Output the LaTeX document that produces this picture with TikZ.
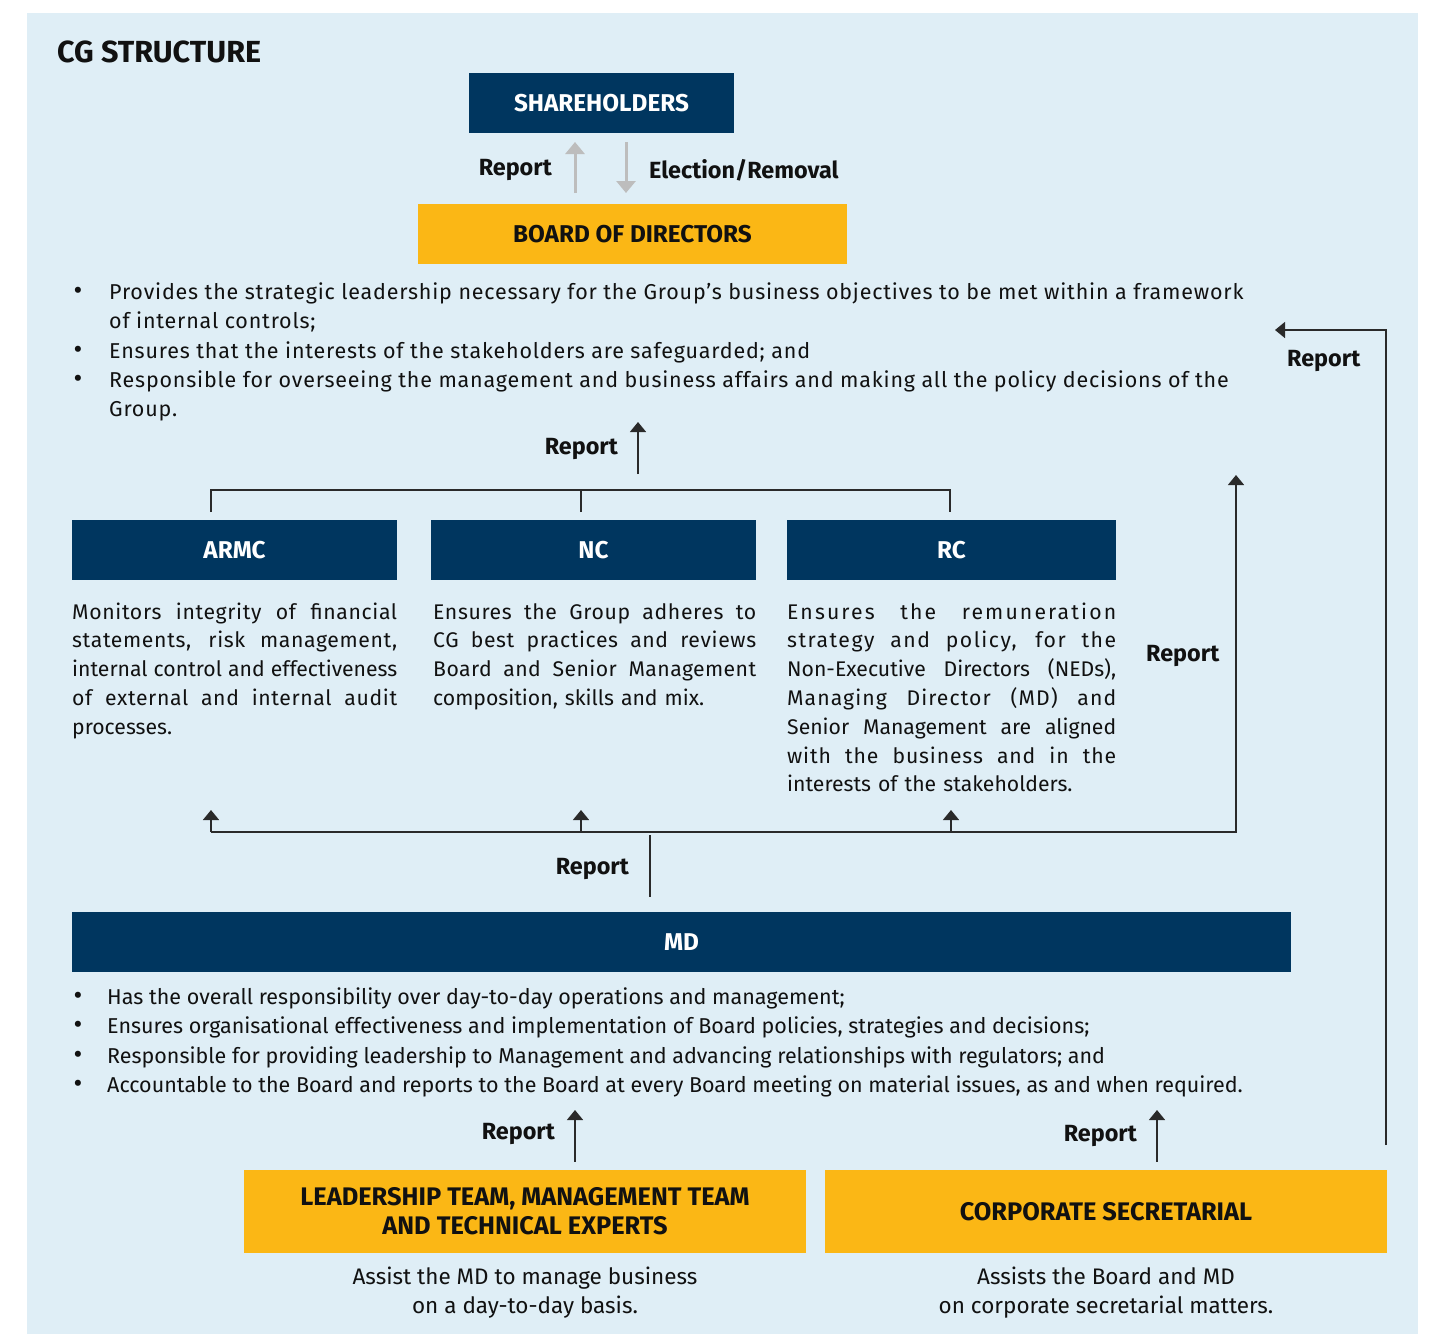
\documentclass[tikz,border=0pt]{standalone}
\usepackage{fontspec}
\setmainfont{Fira Sans}
\usetikzlibrary{arrows.meta}
\definecolor{navy}{HTML}{00365F}
\definecolor{gold}{HTML}{FBB715}
\definecolor{bgblue}{HTML}{DFEEF6}
\definecolor{arrowgray}{HTML}{BDBDBD}
\definecolor{linegray}{HTML}{2A2A2A}
\definecolor{ink}{HTML}{111111}
\newcommand\jline[3][325pt]{\leavevmode\hbox to #1{\addfontfeatures{LetterSpace=#2}\spaceskip=0.25em plus 1fil minus 0.12em\xspaceskip=0.25em plus 1fil minus 0.12em\relax #3}}
\begin{document}
\begin{tikzpicture}[x=1pt,y=-1pt,
  navybox/.style={fill=navy,text=white,font=\fontsize{24.3}{28}\selectfont\bfseries,inner sep=0pt,minimum height=60pt},
  goldbox/.style={fill=gold,text=ink,font=\fontsize{24.3}{29}\selectfont\bfseries,inner sep=0pt,align=center},
  lbl/.style={font=\fontsize{23.4}{26}\selectfont\bfseries,text=ink,inner sep=0pt},
  bodytxt/.style={font=\fontsize{21.5}{29}\selectfont,text=ink,inner sep=0pt,align=left,anchor=base west},
  boardtxt/.style={bodytxt,font=\fontsize{21.5}{29}\selectfont\addfontfeatures{LetterSpace=3.7}},
  bul/.style={font=\fontsize{27}{29}\selectfont,text=ink,inner sep=0pt,anchor=base},
  para/.style={font=\fontsize{21.2}{28.8}\selectfont,text=ink,inner sep=0pt,align=left,anchor=base west,text width=325pt},
  captxt/.style={font=\fontsize{22.5}{29}\selectfont,text=ink,align=center,anchor=base,inner sep=0pt},
  conn/.style={draw=linegray,line width=1.5pt},
  arr/.style={conn,-{Triangle[width=16pt,length=10pt]}},
  garr/.style={draw=arrowgray,line width=3pt,-{Triangle[width=19pt,length=12pt]}}
]
\useasboundingbox (0,0) rectangle (1431,1334);
\fill[bgblue] (27,13) rectangle (1418,1334);

\node[font=\fontsize{30.5}{34}\selectfont\bfseries,text=ink,anchor=west,inner sep=0pt] (title) at (57,52) {CG STRUCTURE};

% Shareholders / Board
\node[navybox,minimum width=265pt] (sh) at (601.5,103) {SHAREHOLDERS};
\node[goldbox,minimum width=429pt,minimum height=60pt] (bod) at (632.5,234) {BOARD OF DIRECTORS};
\coordinate (g1s) at (575,193); \coordinate (g1e) at (575,142);
\coordinate (g2s) at (626,142); \coordinate (g2e) at (626,193);
\draw[garr] (g1s) -- (g1e);
\draw[garr] (g2s) -- (g2e);
\node[lbl,anchor=east] (lrep1) at (552,170) {Report};
\node[lbl,anchor=west] (lelec) at (649,170) {Election/Removal};

% Board bullets (multi-line nodes anchored at last baseline)
\node[bul] (bb1) at (78,299) {•};
\node[boardtxt] (bt1) at (109,328) {Provides the strategic leadership necessary for the Group’s business objectives to be met within a framework\\of internal controls;};
\node[bul] (bb2) at (78,358) {•};
\node[boardtxt] (bt2) at (109,358) {Ensures that the interests of the stakeholders are safeguarded; and};
\node[bul] (bb3) at (78,387) {•};
\node[boardtxt] (bt3) at (109,416) {Responsible for overseeing the management and business affairs and making all the policy decisions of the\\Group.};

% Committees
\node[lbl,anchor=east] (lrep2) at (618,449) {Report};
\coordinate (c1s) at (638,474); \coordinate (c1e) at (638,422);
\draw[arr] (c1s) -- (c1e);

\node[navybox,minimum width=325pt] (armc) at (234.5,550) {ARMC};
\node[navybox,minimum width=325pt] (nc) at (593.5,550) {NC};
\node[navybox,minimum width=329pt] (rc) at (951.5,550) {RC};

\coordinate (k1) at (211,512); \coordinate (k2) at (581,512); \coordinate (k3) at (950,512);
\draw[conn] (k1) -- (211,490) -- (950,490) -- (k3);
\draw[conn] (k2) -- (581,490);

\node[para] (ta) at (72,619) {\jline{3}{Monitors integrity of financial}\\\jline{3}{statements, risk management,}\\\jline{0}{internal control and effectiveness}\\\jline{3}{of external and internal audit}\\processes.};
\node[para,text width=323pt] (tn) at (433,619) {\jline[323pt]{3}{Ensures the Group adheres to}\\\jline[323pt]{3}{CG best practices and reviews}\\\jline[323pt]{2}{Board and Senior Management}\\composition, skills and mix.};
\node[para,text width=329pt] (tr) at (787,619) {\jline[329pt]{10}{Ensures the remuneration}\\\jline[329pt]{7}{strategy and policy, for the}\\\jline[329pt]{0}{Non-Executive Directors (NEDs),}\\\jline[329pt]{5}{Managing Director (MD) and}\\\jline[329pt]{0}{Senior Management are aligned}\\\jline[329pt]{4}{with the business and in the}\\interests of the stakeholders.};

\node[lbl,anchor=west] (lrep3) at (1146,656) {Report};

% MD report lines
\coordinate (u1) at (211,810); \coordinate (u2) at (581,810); \coordinate (u3) at (951,810);
\coordinate (u4) at (1236,475);
\draw[arr] (211,832) -- (u1);
\draw[arr] (581,832) -- (u2);
\draw[arr] (951,832) -- (u3);
\draw[arr] (211,832) -- (1236,832) -- (u4);

\node[navybox,minimum width=1219pt] (md) at (681.5,942) {MD};
\coordinate (m1) at (650,835);
\draw[conn] (md.north -| m1) ++(0,-15) -- (m1);
\node[lbl,anchor=east] (lrep4) at (629,869) {Report};

% MD bullets
\node[bul] (mb1) at (78,1004) {•};
\node[bodytxt] (mt1) at (107,1004) {Has the overall responsibility over day-to-day operations and management;};
\node[bul] (mb2) at (78,1033) {•};
\node[bodytxt] (mt2) at (107,1033) {Ensures organisational effectiveness and implementation of Board policies, strategies and decisions;};
\node[bul] (mb3) at (78,1063) {•};
\node[bodytxt] (mt3) at (107,1063) {Responsible for providing leadership to Management and advancing relationships with regulators; and};
\node[bul] (mb4) at (78,1092) {•};
\node[bodytxt] (mt4) at (107,1092) {Accountable to the Board and reports to the Board at every Board meeting on material issues, as and when required.};

% Bottom boxes
\node[goldbox,font=\fontsize{25.4}{29}\selectfont\bfseries,minimum width=562pt,minimum height=83pt] (lead) at (525,1211.5) {LEADERSHIP TEAM, MANAGEMENT TEAM\\AND TECHNICAL EXPERTS};
\node[goldbox,font=\fontsize{25.4}{29}\selectfont\bfseries,minimum width=562pt,minimum height=83pt] (cs) at (1106,1211.5) {CORPORATE SECRETARIAL};

\coordinate (r1) at (575,1110); \coordinate (r2) at (1157,1110);
\draw[arr] (lead.north -| r1) ++(0,-8) -- (r1);
\draw[arr] (cs.north -| r2) ++(0,-8) -- (r2);
\node[lbl,anchor=east] (lrep5) at (555,1134) {Report};
\node[lbl,anchor=east] (lrep6) at (1137,1136) {Report};

\coordinate (s1) at (1386,1145); \coordinate (s2) at (1275,330);
\draw[arr] (s1) -- (1386,330) -- (s2);
\node[lbl,anchor=west] (lrep7) at (1287,361) {Report};

\node[captxt] (capl) at (525,1313) {Assist the MD to manage business\\on a day-to-day basis.};
\node[captxt] (capr) at (1106,1313) {Assists the Board and MD\\on corporate secretarial matters.};
\end{tikzpicture}
\end{document}
